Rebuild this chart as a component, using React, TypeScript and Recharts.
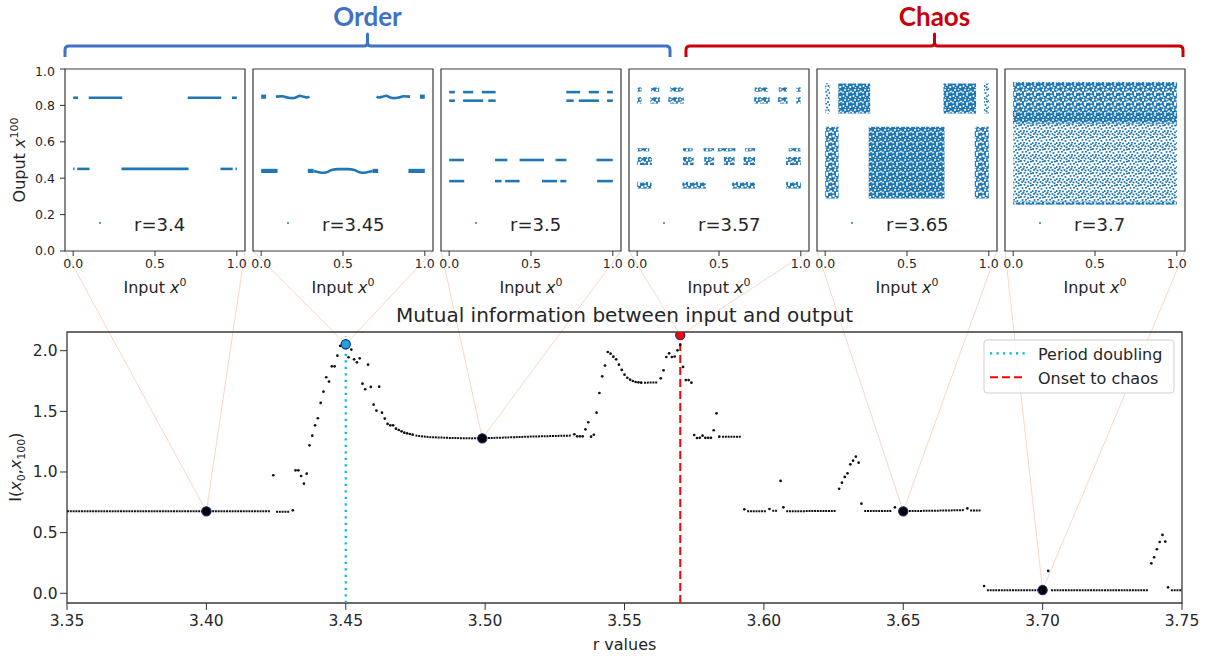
import React from 'react';
import { ComposedChart, Line, Scatter, XAxis, YAxis, ReferenceArea } from 'recharts';

const FONT = '"DejaVu Sans", Verdana, sans-serif';
const BLUE = '#1f77b4';
const TXT = '#262626';
const AX = '#333333';

// ---------------- top panels (output x^100 vs input x^0) ----------------
const panelR = ['3.4', '3.45', '3.5', '3.57', '3.65', '3.7'];
const panelXTicks = [0, 0.5, 1];
const panelYTicks = [0, 0.2, 0.4, 0.6, 0.8, 1];

// r = 3.4 : [input from, input to, output]
const segsR340 = [
  [0.0, 0.03, 0.842], [0.095, 0.3, 0.842], [0.7, 0.905, 0.842], [0.97, 1.0, 0.842],
  [0.0, 0.008, 0.451], [0.025, 0.1, 0.451], [0.295, 0.705, 0.451], [0.9, 0.975, 0.451], [0.992, 1.0, 0.451],
];
// r = 3.45 : wavy strokes, [input, output]
const wavesR345 = [
  [[0.09, 0.848], [0.13, 0.85], [0.16, 0.843], [0.19, 0.84], [0.215, 0.845], [0.235, 0.853], [0.26, 0.847], [0.28, 0.843], [0.295, 0.848]],
  [[0.705, 0.848], [0.72, 0.843], [0.74, 0.847], [0.765, 0.853], [0.785, 0.845], [0.81, 0.84], [0.84, 0.843], [0.87, 0.85], [0.91, 0.848]],
  [[0.32, 0.44], [0.34, 0.435], [0.37, 0.43], [0.4, 0.433], [0.43, 0.445], [0.47, 0.45], [0.53, 0.45], [0.57, 0.445], [0.6, 0.433], [0.63, 0.43], [0.66, 0.435], [0.68, 0.44]],
];
// r = 3.45 : clustered strokes [from, to, output]
const blocksR345 = [
  [0, 0.03, 0.848], [0.97, 1.0, 0.848],
  [0, 0.1, 0.44], [0.285, 0.32, 0.44], [0.68, 0.715, 0.44], [0.9, 1.0, 0.44],
];
// r = 3.5 : [from, to, output]
const segsR350 = [
  [0, 0.035, 0.873], [0.085, 0.147, 0.873], [0.2, 0.284, 0.873], [0.716, 0.8, 0.873], [0.853, 0.915, 0.873], [0.965, 1, 0.873],
  [0, 0.035, 0.826], [0.085, 0.208, 0.826], [0.239, 0.284, 0.826], [0.716, 0.761, 0.826], [0.792, 0.915, 0.826], [0.965, 1, 0.826],
  [0, 0.09, 0.5], [0.28, 0.356, 0.5], [0.43, 0.58, 0.5], [0.65, 0.716, 0.5], [0.9, 1, 0.5],
  [0, 0.092, 0.384], [0.28, 0.32, 0.384], [0.342, 0.43, 0.384], [0.567, 0.659, 0.384], [0.679, 0.716, 0.384], [0.904, 1, 0.384],
];
// r = 3.57 / 3.65 / 3.7 : clouds [from, to, low, high, point density]
const bandsR357 = [
  [0, 0.027, 0.875, 0.899, 0.6], [0.084, 0.135, 0.875, 0.899, 0.6], [0.2, 0.282, 0.875, 0.899, 0.6],
  [0.718, 0.8, 0.875, 0.899, 0.6], [0.865, 0.916, 0.875, 0.899, 0.6], [0.973, 1, 0.875, 0.899, 0.6],
  [0, 0.027, 0.81, 0.845, 0.6], [0.08, 0.14, 0.81, 0.845, 0.6], [0.19, 0.285, 0.81, 0.845, 0.6],
  [0.715, 0.81, 0.81, 0.845, 0.6], [0.86, 0.92, 0.81, 0.845, 0.6], [0.973, 1, 0.81, 0.845, 0.6],
  [0, 0.074, 0.547, 0.565, 0.6], [0.28, 0.34, 0.547, 0.565, 0.6], [0.405, 0.47, 0.547, 0.565, 0.6],
  [0.49, 0.6, 0.547, 0.565, 0.6], [0.66, 0.72, 0.547, 0.565, 0.6], [0.926, 1, 0.547, 0.565, 0.6],
  [0, 0.09, 0.472, 0.517, 0.6], [0.28, 0.345, 0.472, 0.517, 0.6], [0.41, 0.47, 0.472, 0.517, 0.6],
  [0.53, 0.595, 0.472, 0.517, 0.6], [0.65, 0.72, 0.472, 0.517, 0.6], [0.91, 1, 0.472, 0.517, 0.6],
  [0, 0.088, 0.343, 0.38, 0.6], [0.276, 0.42, 0.343, 0.38, 0.6], [0.58, 0.72, 0.343, 0.38, 0.6], [0.91, 1, 0.343, 0.38, 0.6],
];
const bandsR365 = [
  [0, 0.03, 0.756, 0.921, 0.45], [0.08, 0.275, 0.756, 0.921, 0.75], [0.723, 0.922, 0.756, 0.921, 0.75], [0.97, 1, 0.756, 0.921, 0.45],
  [0, 0.082, 0.288, 0.683, 0.6], [0.266, 0.729, 0.288, 0.683, 0.7], [0.914, 1, 0.288, 0.683, 0.6],
];
const bandsR370 = [
  [0, 1, 0.255, 0.7, 0.42], [0, 1, 0.7, 0.928, 0.6], [0, 1, 0.7, 0.77, 0.72], [0, 1, 0.255, 0.272, 0.72], [0, 1, 0.905, 0.928, 0.72],
];

// ---------------- mutual information I(x0, x100) vs r ----------------
const miXTicks = [3.35, 3.4, 3.45, 3.5, 3.55, 3.6, 3.65, 3.7, 3.75];
const miYTicks = [0, 0.5, 1, 1.5, 2];
// plateaus of closely spaced points, read as runs [r, I]
const miRuns = [
  [[3.35, 0.677], [3.423, 0.677]],
  [[3.425, 0.673], [3.43, 0.673]],
  [[3.475, 1.3], [3.48, 1.288], [3.487, 1.281], [3.495, 1.277], [3.505, 1.282], [3.515, 1.291], [3.525, 1.297], [3.531, 1.3]],
  [[3.557, 1.736], [3.562, 1.738]],
  [[3.585, 1.291], [3.592, 1.291]],
  [[3.594, 0.677], [3.601, 0.677]],
  [[3.603, 0.68], [3.605, 0.68]],
  [[3.608, 0.677], [3.626, 0.678]],
  [[3.636, 0.678], [3.646, 0.678]],
  [[3.649, 0.678], [3.66, 0.68], [3.672, 0.686]],
  [[3.674, 0.683], [3.678, 0.683]],
  [[3.68, 0.025], [3.701, 0.025]],
  [[3.703, 0.025], [3.738, 0.025]],
  [[3.746, 0.025], [3.75, 0.025]],
];
// isolated points [r, I]
const miDots = [
  [3.424, 0.973], [3.431, 0.684], [3.432, 1.014], [3.433, 1.014], [3.434, 0.967], [3.435, 0.904], [3.436, 0.986],
  [3.437, 1.22], [3.438, 1.299], [3.439, 1.385], [3.44, 1.443], [3.441, 1.569], [3.442, 1.662], [3.443, 1.781],
  [3.444, 1.745], [3.445, 1.871], [3.446, 1.871], [3.447, 1.959], [3.448, 2.039], [3.449, 2.045],
  [3.451, 1.946], [3.452, 2.009], [3.453, 1.929], [3.454, 1.904], [3.455, 1.937], [3.456, 1.728], [3.457, 1.682],
  [3.458, 1.885], [3.459, 1.701], [3.46, 1.555], [3.461, 1.506], [3.462, 1.703], [3.463, 1.489], [3.464, 1.44],
  [3.465, 1.396], [3.466, 1.385], [3.467, 1.385], [3.468, 1.357], [3.469, 1.346], [3.47, 1.335], [3.471, 1.324],
  [3.472, 1.319], [3.473, 1.313], [3.474, 1.308],
  [3.532, 1.311], [3.533, 1.294], [3.534, 1.294], [3.535, 1.294], [3.536, 1.352], [3.537, 1.41], [3.538, 1.291],
  [3.539, 1.307], [3.54, 1.489], [3.541, 1.651], [3.542, 1.789], [3.543, 1.877], [3.544, 1.989], [3.545, 1.975],
  [3.546, 1.951], [3.547, 1.929], [3.548, 1.885], [3.549, 1.841], [3.55, 1.802], [3.551, 1.777], [3.552, 1.761],
  [3.553, 1.75], [3.554, 1.742], [3.555, 1.739], [3.556, 1.736],
  [3.563, 1.772], [3.564, 1.838], [3.565, 1.948], [3.566, 1.978], [3.567, 1.948], [3.568, 1.952], [3.569, 2.003],
  [3.57, 2.047], [3.571, 1.866], [3.572, 1.758], [3.573, 1.758], [3.574, 1.736], [3.575, 1.305], [3.576, 1.28],
  [3.577, 1.282], [3.578, 1.299], [3.579, 1.282], [3.58, 1.282], [3.581, 1.282], [3.582, 1.344], [3.583, 1.484],
  [3.584, 1.291], [3.593, 0.692], [3.602, 0.695], [3.606, 0.926], [3.607, 0.709],
  [3.627, 0.862], [3.628, 0.912], [3.629, 0.959], [3.63, 0.989], [3.631, 1.063], [3.632, 1.093], [3.633, 1.126],
  [3.634, 1.077], [3.635, 0.739], [3.647, 0.709], [3.673, 0.7], [3.679, 0.06], [3.702, 0.184],
  [3.739, 0.247], [3.74, 0.297], [3.741, 0.363], [3.742, 0.423], [3.743, 0.481], [3.744, 0.426], [3.745, 0.049],
];
// highlighted r values (shown in the panels above)
const highlightR = [3.4, 3.45, 3.499, 3.57, 3.65, 3.7];
const highlightI = [0.676, 2.053, 1.277, 2.128, 0.676, 0.027];
const highlightColor = ['#000000', '#1aa3dc', '#000000', '#ff0000', '#000000', '#000000'];
const periodDoubling = [[3.45, -0.08], [3.45, 2.12]];
const onsetChaos = [[3.57, -0.08], [3.57, 2.128]];

// ---------------- layout ----------------
const PANEL_LEFTS = [65, 253, 441, 629, 817, 1005];
const PANEL_W = 180;
const PANEL_TOP = 69;
const PANEL_H = 182;
const MI = { left: 67, top: 332, width: 1115, height: 271, x0: 3.35, x1: 3.75, y0: -0.08, y1: 2.154 };
const pxR = (r: number) => MI.left + ((r - MI.x0) / (MI.x1 - MI.x0)) * MI.width;
const pyI = (v: number) => MI.top + ((MI.y1 - v) / (MI.y1 - MI.y0)) * MI.height;

const texture = (d: number) => (d >= 0.8 ? 'url(#pSolid)' : d >= 0.7 ? 'url(#pDense)' : d >= 0.55 ? 'url(#pMid)' : 'url(#pSparse)');

const seg = (x1: number, x2: number, y: number) => [{ x: x1, v: y }, { x: x2, v: y }];

// speckle layouts for the point-cloud textures (tile-relative)
const speckDense = [[1.5, 2, 1], [5, 1, 0.9], [8.2, 3, 1.1], [3, 6, 1], [6.5, 5.5, 0.8], [9, 7.5, 0.9], [1, 8.5, 0.9], [5, 9, 1], [3.6, 3.6, 0.7], [7.2, 8.2, 0.7]];
const speckMid = [[1.5, 2, 1.25], [5, 1, 1.1], [8.2, 3, 1.3], [3, 6, 1.2], [6.5, 5.5, 1.1], [9, 7.5, 1.2], [1, 8.5, 1.1], [5, 9, 1.2], [3.6, 3.6, 0.9], [7.2, 8.2, 0.9]];
const speckSparse = [[1, 1], [4.5, 0.8], [8, 2], [11, 1.5], [2.5, 4], [6, 3.8], [9.5, 5], [0.8, 7], [4, 6.8], [7, 7.5], [11, 8.2], [2, 10], [5.5, 10.5], [8.5, 10], [10.5, 11.3], [3.5, 8.8]];

function panelMarks(i: number) {
  const out: any[] = [];
  const lineProps = { dataKey: 'v', dot: false, activeDot: false, isAnimationActive: false, stroke: BLUE, strokeLinecap: 'butt' as const };
  if (i === 0) {
    segsR340.forEach((s, k) => out.push(<Line key={'a' + k} data={seg(s[0], s[1], s[2])} strokeWidth={2.6} {...lineProps} />));
  } else if (i === 1) {
    wavesR345.forEach((w, k) => out.push(<Line key={'w' + k} type="monotone" data={w.map(([x, v]) => ({ x, v }))} strokeWidth={2.6} {...lineProps} />));
    blocksR345.forEach((s, k) => out.push(<Line key={'b' + k} data={seg(s[0], s[1], s[2])} strokeWidth={4.2} {...lineProps} />));
  } else if (i === 2) {
    segsR350.forEach((s, k) => out.push(<Line key={'c' + k} data={seg(s[0], s[1], s[2])} strokeWidth={2.6} {...lineProps} />));
  } else {
    const bands = i === 3 ? bandsR357 : i === 4 ? bandsR365 : bandsR370;
    bands.forEach((b, k) =>
      out.push(<ReferenceArea key={'d' + k} x1={b[0]} x2={b[1]} y1={b[2]} y2={b[3]} fill={texture(b[4])} fillOpacity={1} stroke="none" ifOverflow="visible" />)
    );
  }
  return out;
}

function Panel({ i }: { i: number }) {
  const L = PANEL_LEFTS[i];
  return (
    <div style={{ position: 'absolute', left: L - 45, top: PANEL_TOP - 5 }}>
      <ComposedChart width={45 + PANEL_W + 5} height={5 + PANEL_H + 24} margin={{ top: 5, right: 5, left: 0, bottom: 0 }}>
        <XAxis
          type="number" dataKey="x" domain={[-0.05, 1.05]} allowDataOverflow ticks={panelXTicks}
          tickFormatter={(v: number) => v.toFixed(1)} height={24} axisLine={false}
          tickLine={{ stroke: AX }} tickSize={5} tickMargin={3}
          tick={{ fontSize: 12.5, fill: TXT, fontFamily: FONT }}
        />
        <YAxis
          type="number" dataKey="v" domain={[0, 1]} allowDataOverflow ticks={panelYTicks}
          tickFormatter={(v: number) => v.toFixed(1)} width={45} axisLine={false}
          tickLine={{ stroke: AX }} tickSize={5} tickMargin={5}
          tick={i === 0 ? { fontSize: 12.5, fill: TXT, fontFamily: FONT } : false}
        />
        {panelMarks(i)}
        <ReferenceArea x1={-0.05} x2={1.05} y1={0} y2={1} fill="none" fillOpacity={0} stroke="#3a3a3a" strokeWidth={1.2} />
      </ComposedChart>
    </div>
  );
}

const SmallDot = (p: any) => <circle cx={p.cx} cy={p.cy} r={1.35} fill="#111" />;
const BigDot = (p: any) => (
  <circle cx={p.cx} cy={p.cy} r={4.6} fill={(p.payload && p.payload.c) || '#000'} stroke="#1b2a7a" strokeWidth={1.1} />
);

export default function App() {
  const dotData = miDots.map(([r, v]) => ({ r, v }));
  const hiData = highlightR.map((r, k) => ({ r, v: highlightI[k], c: highlightColor[k] }));
  const runProps = { dataKey: 'v', dot: false, activeDot: false, isAnimationActive: false, stroke: '#111', strokeWidth: 2, strokeDasharray: '2 0.79', strokeLinecap: 'butt' as const };

  return (
    <div style={{ position: 'absolute', left: 0, top: 0, width: 1210, height: 660, background: '#fff', fontFamily: FONT, overflow: 'hidden' }}>
      {/* connectors between panels and highlighted points */}
      <svg style={{ position: 'absolute', left: 0, top: 0 }} width={1210} height={660}>
        {PANEL_LEFTS.map((L, i) => {
          const tx = pxR(highlightR[i]);
          const ty = pyI(highlightI[i]);
          const b = PANEL_TOP + PANEL_H;
          return (
            <g key={i} stroke="#f6b493" strokeOpacity={0.55} strokeWidth={1}>
              <line x1={L} y1={b} x2={tx} y2={ty} />
              <line x1={L + PANEL_W} y1={b} x2={tx} y2={ty} />
            </g>
          );
        })}
      </svg>

      {PANEL_LEFTS.map((_, i) => (
        <Panel key={i} i={i} />
      ))}

      <div style={{ position: 'absolute', left: 0, top: 300 }}>
        <ComposedChart width={1210} height={360} margin={{ top: 32, right: 28, left: 0, bottom: 27 }}>
          <XAxis
            type="number" dataKey="r" domain={[MI.x0, MI.x1]} allowDataOverflow ticks={miXTicks}
            tickFormatter={(v: number) => v.toFixed(2)} height={30} axisLine={false}
            tickLine={{ stroke: AX }} tickSize={7} tickMargin={5}
            tick={{ fontSize: 15.5, fill: TXT, fontFamily: FONT }}
          />
          <YAxis
            type="number" dataKey="v" domain={[MI.y0, MI.y1]} allowDataOverflow ticks={miYTicks}
            tickFormatter={(v: number) => v.toFixed(1)} width={67} axisLine={false}
            tickLine={{ stroke: AX }} tickSize={7} tickMargin={2.5}
            tick={{ fontSize: 15.5, fill: TXT, fontFamily: FONT }}
          />
          <Line data={periodDoubling.map(([r, v]) => ({ r, v }))} dataKey="v" dot={false} activeDot={false} isAnimationActive={false} stroke="#00bfbf" strokeWidth={2.2} strokeDasharray="2.2 4.3" />
          <Line data={onsetChaos.map(([r, v]) => ({ r, v }))} dataKey="v" dot={false} activeDot={false} isAnimationActive={false} stroke="#ff0000" strokeWidth={2} strokeDasharray="8 4" />
          {miRuns.map((run, k) => (
            <Line key={'run' + k} data={run.map(([r, v]) => ({ r, v }))} {...runProps} />
          ))}
          <Scatter data={dotData} dataKey="v" shape={SmallDot} isAnimationActive={false} />
          <Scatter data={hiData} dataKey="v" shape={BigDot} isAnimationActive={false} />
          <ReferenceArea x1={MI.x0} x2={MI.x1} y1={MI.y0} y2={MI.y1} fill="none" fillOpacity={0} stroke="#3a3a3a" strokeWidth={1.3} />
        </ComposedChart>
      </div>

      {/* texts, brackets, legend */}
      <svg style={{ position: 'absolute', left: 0, top: 0, pointerEvents: 'none' }} width={1210} height={660} fontFamily={FONT}>
        <defs>
          <pattern id="pSolid" width="4" height="4" patternUnits="userSpaceOnUse">
            <rect width="4" height="4" fill={BLUE} />
            <circle cx="1" cy="1" r="0.5" fill="#fff" opacity="0.8" />
          </pattern>
          <pattern id="pDense" width="10" height="10" patternUnits="userSpaceOnUse">
            <rect width="10" height="10" fill={BLUE} />
            {speckDense.map(([cx, cy, r], k) => <circle key={k} cx={cx} cy={cy} r={r} fill="#fff" />)}
          </pattern>
          <pattern id="pMid" width="10" height="10" patternUnits="userSpaceOnUse">
            <rect width="10" height="10" fill={BLUE} />
            {speckMid.map(([cx, cy, r], k) => <circle key={k} cx={cx} cy={cy} r={r} fill="#fff" />)}
          </pattern>
          <pattern id="pSparse" width="12" height="12" patternUnits="userSpaceOnUse">
            {speckSparse.map(([cx, cy], k) => <circle key={k} cx={cx} cy={cy} r={1.05} fill={BLUE} />)}
          </pattern>
        </defs>

        {/* brackets */}
        <path d="M65,57 L65,50 Q65,46 69,46 L364,46 Q367.5,46 367.5,42.5 L367.5,34 L367.5,42.5 Q367.5,46 371,46 L666,46 Q670,46 670,50 L670,57"
          fill="none" stroke="#3f72c6" strokeWidth={3} strokeLinejoin="round" />
        <path d="M686,57 L686,50 Q686,46 690,46 L931,46 Q934.5,46 934.5,42.5 L934.5,34 L934.5,42.5 Q934.5,46 938,46 L1179,46 Q1183,46 1183,50 L1183,57"
          fill="none" stroke="#c9000a" strokeWidth={3} strokeLinejoin="round" />
        <text x={367.5} y={26} textAnchor="middle" fontSize={26} fontWeight={700} fill="#3f72c6" fontFamily="Lato, 'Open Sans', sans-serif">Order</text>
        <text x={934.5} y={26} textAnchor="middle" fontSize={26} fontWeight={700} fill="#c9000a" fontFamily="Lato, 'Open Sans', sans-serif">Chaos</text>

        {/* panel labels */}
        <text transform="rotate(-90)" x={-160} y={24.5} textAnchor="middle" fontSize={16} fill={TXT}>
          Ouput <tspan fontStyle="italic">x</tspan><tspan dy={-7} fontSize={11}>100</tspan>
        </text>
        {PANEL_LEFTS.map((L, i) => (
          <g key={i}>
            <circle cx={L + 35} cy={223} r={1} fill={BLUE} />
            <text x={L + 69} y={230.5} fontSize={18} fill={TXT}>r={panelR[i]}</text>
            <text x={L + PANEL_W / 2} y={293} textAnchor="middle" fontSize={16} fill={TXT}>
              Input <tspan fontStyle="italic">x</tspan><tspan dy={-7} fontSize={11}>0</tspan>
            </text>
          </g>
        ))}

        {/* bottom chart texts */}
        <text x={MI.left + MI.width / 2} y={322} textAnchor="middle" fontSize={20} fill={TXT}>
          Mutual information between input and output
        </text>
        <text x={MI.left + MI.width / 2} y={649.5} textAnchor="middle" fontSize={16} fill={TXT}>r values</text>
        <text transform="rotate(-90)" x={-467} y={20.5} textAnchor="middle" fontSize={16} fill={TXT}>
          I(<tspan fontStyle="italic">x</tspan><tspan dy={4} fontSize={11}>0</tspan><tspan dy={-4}>,</tspan><tspan fontStyle="italic">x</tspan><tspan dy={4} fontSize={11}>100</tspan><tspan dy={-4}>)</tspan>
        </text>

        {/* legend */}
        <rect x={984} y={340} width={190} height={53} rx={3} fill="#fff" fillOpacity={0.8} stroke="#d0d0d0" />
        <line x1={990} y1={353.3} x2={1025} y2={353.3} stroke="#00bfbf" strokeWidth={2.2} strokeDasharray="2.2 4.3" />
        <line x1={990} y1={377.3} x2={1025} y2={377.3} stroke="#ff0000" strokeWidth={2} strokeDasharray="8 4" />
        <text x={1038} y={359.5} fontSize={16} fill={TXT}>Period doubling</text>
        <text x={1038} y={383.5} fontSize={16} fill={TXT}>Onset to chaos</text>
      </svg>
    </div>
  );
}
